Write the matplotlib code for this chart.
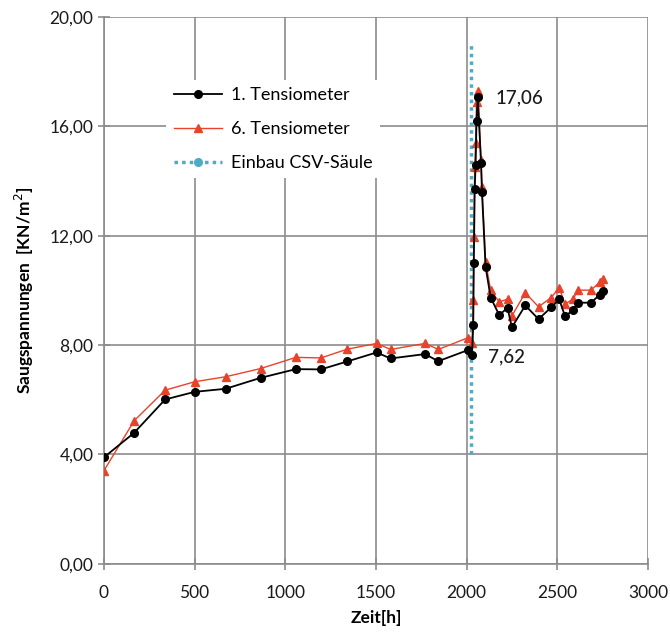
# Import libraries
import matplotlib.pyplot as plt
from matplotlib.ticker import FuncFormatter

plt.rcParams['font.family'] = ['Lato', 'DejaVu Sans']

# ---- Data ---- #
# 1. Tensiometer
t_1 = [0, 167, 338, 502, 671, 864, 1059, 1197, 1342, 1504, 1581, 1771, 1844, 2009, 2030,
       2037, 2040, 2045, 2050, 2055, 2062, 2080, 2085, 2105, 2133, 2180, 2226, 2250, 2324,
       2397, 2467, 2511, 2543, 2589, 2613, 2686, 2736, 2754]
s_1 = [3.89, 4.79, 6.01, 6.29, 6.40, 6.80, 7.12, 7.11, 7.40, 7.73, 7.51, 7.67, 7.41, 7.82, 7.62,
       8.73, 11.0, 13.7, 14.6, 16.2, 17.06, 14.65, 13.6, 10.86, 9.74, 9.10, 9.36, 8.65, 9.45,
       8.95, 9.38, 9.67, 9.06, 9.28, 9.55, 9.55, 9.85, 9.97]

# 6. Tensiometer
t_6 = [0, 167, 338, 502, 671, 864, 1059, 1197, 1342, 1504, 1581, 1771, 1844, 2009, 2030,
       2037, 2040, 2045, 2050, 2055, 2062, 2080, 2085, 2105, 2133, 2180, 2226, 2250, 2324,
       2397, 2467, 2511, 2543, 2589, 2613, 2686, 2736, 2754]
s_6 = [3.40, 5.23, 6.35, 6.66, 6.84, 7.14, 7.55, 7.53, 7.85, 8.06, 7.84, 8.06, 7.84, 8.27, 8.06,
       9.64, 11.96, 14.5, 15.4, 16.9, 17.3, 14.77, 13.8, 11.05, 10.0, 9.58, 9.68, 9.07, 9.91,
       9.40, 9.74, 10.1, 9.50, 9.69, 10.01, 10.01, 10.31, 10.40]

# Einbau CSV-Saeule (vertical marker)
t_einbau = [2025, 2025]
s_einbau = [4.0, 19.0]

# Annotated values
peak_val = 17.06
low_val = 7.62

# ---- Plot ---- #
fig = plt.figure(figsize=(6.7, 6.32), dpi=100)
ax = fig.add_axes([0.155, 0.108, 0.812, 0.865])

grey = '#8c8c8c'
txt = '#1a1a1a'
ax.grid(True, color=grey, linewidth=1.2)
ax.set_axisbelow(True)

ax.plot(t_einbau, s_einbau, color='#4bacc6', linestyle=(0, (1, 1.2)), linewidth=2.5,
        marker='o', markersize=0, label='Einbau CSV-Säule', zorder=2)
ax.plot(t_1, s_1, color='black', linewidth=1.3, marker='o', markersize=5.5,
        label='1. Tensiometer', zorder=4)
ax.plot(t_6, s_6, color='#e8432a', linewidth=1.0, marker='^', markersize=6,
        label='6. Tensiometer', zorder=3)

# Value labels
ax.text(2162, peak_val, f'{peak_val:.2f}'.replace('.', ','), fontsize=13.5,
        va='center', ha='left', color=txt, fontweight='medium')
ax.text(2118, 7.56, f'{low_val:.2f}'.replace('.', ','), fontsize=13.5,
        va='center', ha='left', color=txt, fontweight='medium')

# Axes design
ax.set_xlim(0, 3000)
ax.set_ylim(0, 20)
ax.set_xticks(range(0, 3001, 500))
ax.set_yticks(range(0, 21, 4))
ax.yaxis.set_major_formatter(FuncFormatter(lambda v, p: f'{v:.2f}'.replace('.', ',')))
ax.tick_params(axis='both', direction='inout', length=8, color=grey, width=1.2,
               labelsize=12.5, labelcolor=txt)
ax.tick_params(axis='x', pad=11)
for sp in ax.spines.values():
    sp.set_color(grey)
    sp.set_linewidth(1.2)
ax.spines['top'].set_visible(False)
ax.spines['right'].set_visible(False)

ax.set_xlabel('Zeit[h]', fontsize=12.5, fontweight='bold', labelpad=7)
ax.set_ylabel('Saugspannungen  [KN/m$^2$]', fontsize=12.5, fontweight='bold', labelpad=10)

# Legend in order of the picture
h, l = ax.get_legend_handles_labels()
leg = ax.legend([h[1], h[2], h[0]], [l[1], l[2], l[0]], loc='upper left',
                bbox_to_anchor=(0.115, 0.885), frameon=True, fontsize=13,
                handlelength=2.7, handletextpad=0.5, labelspacing=1.0, borderaxespad=0)
leg.get_frame().set_edgecolor('none')
leg.get_frame().set_facecolor('white')
leg.get_frame().set_alpha(1)
for lh in leg.legend_handles:
    lh.set_markersize(5.5)

plt.savefig('out.png', dpi=100)
